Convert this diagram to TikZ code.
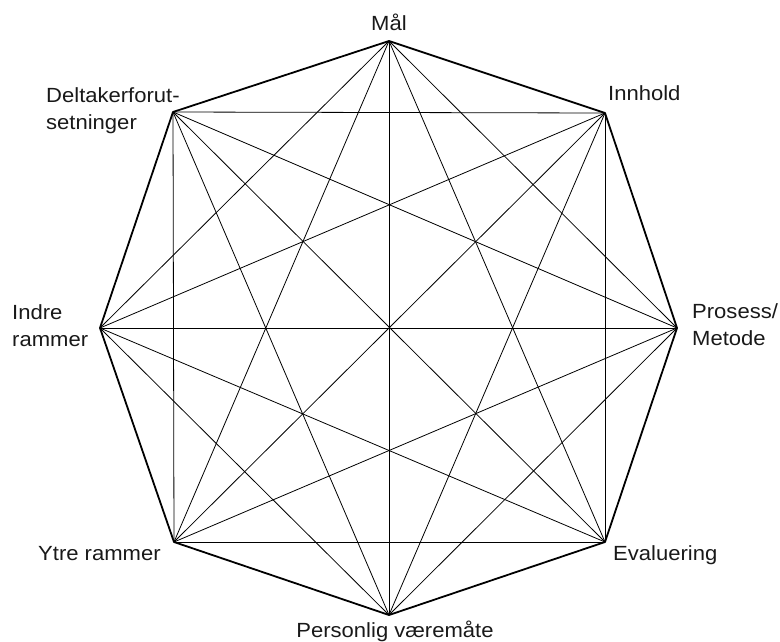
\documentclass[tikz,border=0pt]{standalone}
\usepackage{fontspec}
\setmainfont{Liberation Sans}[FakeStretch=1.075]
\begin{document}
\begin{tikzpicture}[x=1pt,y=-1pt,
    rim/.style={line width=1.8pt, line join=round},
    chord/.style={line width=0.8pt},
    lbl/.style={inner sep=0pt, font=\fontsize{20.5}{27}\selectfont, text=black!90}]
\useasboundingbox (0,0) rectangle (780,641);
% corners of the octagon
\coordinate (mal) at (389,41);
\coordinate (inn) at (605,113);
\coordinate (pro) at (677,328);
\coordinate (eva) at (605,542);
\coordinate (per) at (389,615);
\coordinate (ytr) at (174,542);
\coordinate (ind) at (100,328);
\coordinate (del) at (173,112);
% every diagonal between the eight corners
\foreach \a/\b in {mal/pro,mal/eva,mal/per,mal/ytr,mal/ind,
                   inn/eva,inn/per,inn/ytr,inn/ind,inn/del,
                   pro/per,pro/ytr,pro/ind,pro/del,
                   eva/ytr,eva/ind,eva/del,
                   per/ind,per/del,
                   ytr/del}
  \draw[chord] (\a) -- (\b);
% outer boundary
\draw[rim] (mal) -- (inn) -- (pro) -- (eva) -- (per) -- (ytr) -- (ind) -- (del) -- cycle;
% labels
\node[lbl, anchor=base] (tmal) at (389,30) {Mål};
\node[lbl, anchor=base west] (tinn) at (608,100) {Innhold};
\node[lbl, anchor=north west, align=left] (tpro) at (692,303) {Prosess/\\Metode};
\node[lbl, anchor=base west] (teva) at (613,560) {Evaluering};
\node[lbl, anchor=base] (tper) at (395,637) {Personlig væremåte};
\node[lbl, anchor=base west] (tytr) at (38,560) {Ytre rammer};
\node[lbl, anchor=north west, align=left] (tind) at (12,304) {Indre\\rammer};
\node[lbl, anchor=north west, align=left] (tdel) at (46,87) {Deltakerforut-\\setninger};
\end{tikzpicture}
\end{document}
